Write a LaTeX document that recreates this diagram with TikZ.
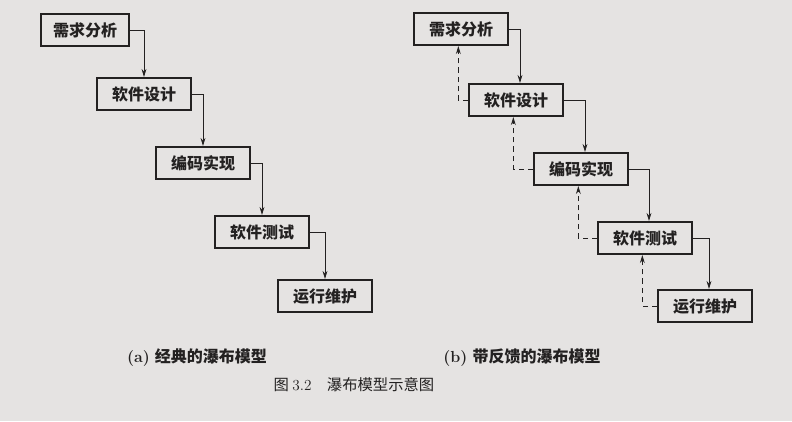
\documentclass[tikz,border=0pt]{standalone}
\usepackage{fontspec}
\usepackage{tikz}
\usetikzlibrary{arrows.meta}
\newfontfamily\cjk{Noto Sans CJK SC}
\definecolor{paper}{RGB}{229,227,226}
\definecolor{ink}{RGB}{35,33,33}

\begin{document}
\begin{tikzpicture}[x=0.75pt,y=-0.75pt,
    stage/.style={draw=ink,line width=1.5pt,fill=paper,minimum width=70pt,minimum height=24pt,
      inner sep=0pt,font=\cjk\bfseries\fontsize{12}{14}\selectfont,text=ink},
    flow/.style={draw=ink,line width=0.7pt,-{Stealth[length=6pt,width=3.6pt]}},
    back/.style={flow,dash pattern=on 4pt off 3pt}]
      \fill[paper] (0,0) rectangle (792,421);
      \useasboundingbox (0,0) rectangle (792,421);

      % (a) classic waterfall
      \node[stage,minimum width=66pt] (a1) at (85,30) {需求分析};
      \node[stage] (a2) at (144,94) {软件设计};
      \node[stage] (a3) at (203,163) {编码实现};
      \node[stage] (a4) at (262,232) {软件测试};
      \node[stage] (a5) at (325,296) {运行维护};

      % (b) waterfall with feedback
      \node[stage] (b1) at (461,29) {需求分析};
      \node[stage] (b2) at (516,100) {软件设计};
      \node[stage] (b3) at (581,169) {编码实现};
      \node[stage] (b4) at (645,238) {软件测试};
      \node[stage] (b5) at (705,306) {运行维护};

      \foreach \i [count=\j from 2] in {1,...,4}{
        \draw[flow] (a\i.east) -| (a\j.north);
        \draw[flow] (b\i.east) -| ([xshift=3pt]b\j.north);
        \draw[back] (b\j.west) -| ([xshift=-2pt]b\i.south);
      }

      \node[text=ink,font=\fontsize{12}{14}\selectfont] (capa) at (197,358) {\textbf{(a)} {\cjk\bfseries 经典的瀑布模型}};
      \node[text=ink,font=\fontsize{12}{14}\selectfont] (capb) at (522,358) {\textbf{(b)} {\cjk\bfseries 带反馈的瀑布模型}};
      \node[text=ink,font=\cjk\fontsize{11.5}{14}\selectfont] (title) at (354,385) {图 {\rmfamily 3.2}\quad 瀑布模型示意图};
\end{tikzpicture}
\end{document}
